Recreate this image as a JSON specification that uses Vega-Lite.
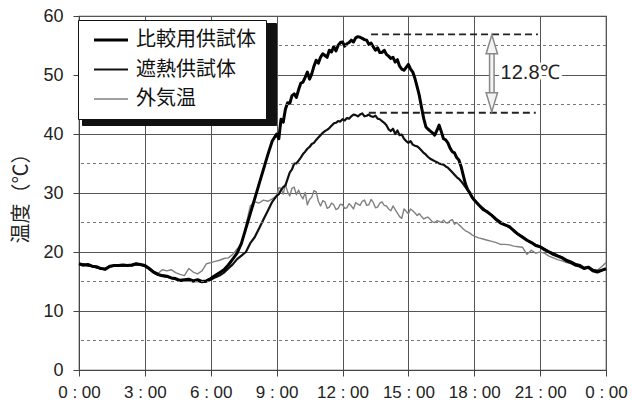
{
  "$schema": "https://vega.github.io/schema/vega-lite/v6.json",
  "width": 527,
  "height": 354,
  "autosize": {"type": "none"},
  "padding": {"left": 79, "top": 16, "right": 26, "bottom": 38},
  "background": "white",
  "config": {
    "view": {"stroke": "#444", "strokeWidth": 1.2},
    "font": "Liberation Sans",
    "axis": {
      "gridColor": "#555", "gridWidth": 1, "domainColor": "#444", "tickColor": "#444",
      "tickSize": 6, "labelColor": "#222", "labelFont": "Liberation Sans"
    },
    "axisY": {"titleFont": "Noto Sans CJK JP", "titleFontSize": 20, "titleFontWeight": "normal", "titleColor": "#222", "titlePadding": 11}
  },
  "layer": [
    {
      "data": {"values": [
        {"t":0.0,"a":18.0,"b":17.9,"c":17.8},{"t":0.2,"a":17.8,"b":17.9,"c":17.6},{"t":0.4,"a":17.9,"b":17.7,"c":17.8},
        {"t":0.6,"a":17.6,"b":17.6,"c":17.5},{"t":0.8,"a":17.5,"b":17.4,"c":17.3},{"t":1.0,"a":17.2,"b":17.2,"c":17.1},
        {"t":1.2,"a":17.1,"b":17.0,"c":17.2},{"t":1.4,"a":17.6,"b":17.5,"c":17.6},{"t":1.6,"a":17.7,"b":17.7,"c":17.6},
        {"t":1.8,"a":17.7,"b":17.7,"c":17.8},{"t":2.0,"a":17.8,"b":17.7,"c":17.7},{"t":2.2,"a":17.7,"b":17.8,"c":17.6},
        {"t":2.4,"a":17.8,"b":17.7,"c":17.8},{"t":2.6,"a":18.0,"b":17.9,"c":18.1},{"t":2.8,"a":17.9,"b":17.8,"c":17.8},
        {"t":3.0,"a":17.7,"b":17.6,"c":17.8},{"t":3.2,"a":17.2,"b":17.1,"c":17.3},{"t":3.4,"a":16.6,"b":16.5,"c":16.7},
        {"t":3.6,"a":16.2,"b":16.1,"c":16.4},{"t":3.8,"a":16.0,"b":15.9,"c":17.0},{"t":4.0,"a":15.9,"b":15.8,"c":16.8},
        {"t":4.2,"a":15.6,"b":15.6,"c":17.0},{"t":4.4,"a":15.5,"b":15.4,"c":16.5},{"t":4.6,"a":15.2,"b":15.1,"c":16.2},
        {"t":4.8,"a":15.3,"b":15.2,"c":16.0},{"t":5.0,"a":15.4,"b":15.2,"c":17.2},{"t":5.2,"a":15.1,"b":15.0,"c":16.6},
        {"t":5.4,"a":15.3,"b":15.1,"c":16.3},{"t":5.6,"a":15.0,"b":14.9,"c":16.8},{"t":5.8,"a":15.1,"b":15.0,"c":18.0},
        {"t":6.0,"a":15.5,"b":15.3,"c":18.2},{"t":6.2,"a":16.0,"b":15.7,"c":18.4},{"t":6.4,"a":16.5,"b":16.0,"c":18.6},
        {"t":6.6,"a":17.0,"b":16.5,"c":18.9},{"t":6.8,"a":17.8,"b":17.2,"c":19.0},{"t":7.0,"a":18.8,"b":17.9,"c":19.6},
        {"t":7.2,"a":19.8,"b":18.8,"c":20.5},{"t":7.4,"a":21.5,"b":19.4,"c":21.3},{"t":7.6,"a":24.0,"b":20.0,"c":24.5},
        {"t":7.8,"a":26.5,"b":21.5,"c":27.8},{"t":8.0,"a":29.0,"b":22.5,"c":28.5},{"t":8.2,"a":31.5,"b":24.0,"c":28.3},
        {"t":8.4,"a":34.0,"b":25.5,"c":28.8},{"t":8.6,"a":36.5,"b":27.0,"c":28.6},{"t":8.8,"a":38.8,"b":28.5,"c":29.0},
        {"t":9.0,"a":40.0,"b":29.5,"c":29.5},{"t":9.1,"a":39.2,"b":29.8,"c":30.9},{"t":9.2,"a":42.5,"b":30.5,"c":30.8},
        {"t":9.3,"a":42.0,"b":31.0,"c":29.8},{"t":9.4,"a":44.2,"b":31.3,"c":31.5},{"t":9.5,"a":45.3,"b":32.4,"c":30.2},
        {"t":9.6,"a":45.2,"b":33.5,"c":29.5},{"t":9.7,"a":46.5,"b":34.0,"c":30.8},{"t":9.8,"a":46.8,"b":35.0,"c":31.0},
        {"t":9.9,"a":46.2,"b":35.0,"c":29.7},{"t":10.0,"a":47.5,"b":35.5,"c":30.5},{"t":10.1,"a":48.6,"b":36.0,"c":29.6},
        {"t":10.2,"a":48.8,"b":36.6,"c":29.0},{"t":10.3,"a":49.6,"b":37.0,"c":30.1},{"t":10.4,"a":50.5,"b":37.5,"c":28.0},
        {"t":10.5,"a":49.3,"b":37.8,"c":28.9},{"t":10.6,"a":50.2,"b":38.3,"c":29.3},{"t":10.7,"a":51.5,"b":38.5,"c":30.4},
        {"t":10.8,"a":52.5,"b":39.0,"c":30.2},{"t":10.9,"a":52.0,"b":39.4,"c":28.6},{"t":11.0,"a":53.0,"b":39.8,"c":27.8},
        {"t":11.1,"a":53.6,"b":40.2,"c":28.7},{"t":11.2,"a":53.3,"b":40.5,"c":28.5},{"t":11.3,"a":53.0,"b":40.7,"c":27.4},
        {"t":11.4,"a":54.2,"b":41.0,"c":27.6},{"t":11.5,"a":53.9,"b":41.4,"c":28.3},{"t":11.6,"a":54.8,"b":41.8,"c":28.0},
        {"t":11.7,"a":54.1,"b":41.9,"c":27.2},{"t":11.8,"a":55.0,"b":42.2,"c":27.4},{"t":11.9,"a":55.5,"b":42.1,"c":28.1},
        {"t":12.0,"a":55.6,"b":42.5,"c":28.0},{"t":12.1,"a":54.9,"b":42.3,"c":27.4},{"t":12.2,"a":55.3,"b":42.7,"c":27.5},
        {"t":12.3,"a":55.5,"b":42.6,"c":28.2},{"t":12.4,"a":55.9,"b":43.0,"c":27.8},{"t":12.5,"a":55.6,"b":43.3,"c":27.3},
        {"t":12.6,"a":56.3,"b":43.2,"c":28.4},{"t":12.7,"a":56.5,"b":43.0,"c":28.1},{"t":12.8,"a":56.4,"b":43.3,"c":27.9},
        {"t":12.9,"a":56.2,"b":43.5,"c":28.6},{"t":13.0,"a":56.0,"b":43.0,"c":28.8},{"t":13.1,"a":55.9,"b":43.1,"c":27.9},
        {"t":13.2,"a":55.2,"b":43.3,"c":28.0},{"t":13.3,"a":55.4,"b":43.0,"c":28.9},{"t":13.4,"a":54.8,"b":42.9,"c":28.4},
        {"t":13.5,"a":54.2,"b":43.1,"c":27.5},{"t":13.6,"a":54.6,"b":42.6,"c":27.6},{"t":13.7,"a":53.8,"b":42.5,"c":28.3},
        {"t":13.8,"a":53.8,"b":42.2,"c":28.5},{"t":13.9,"a":54.2,"b":41.9,"c":27.9},{"t":14.0,"a":53.5,"b":41.5,"c":27.8},
        {"t":14.1,"a":53.2,"b":40.8,"c":27.3},{"t":14.2,"a":52.8,"b":40.5,"c":27.0},{"t":14.3,"a":53.0,"b":40.9,"c":27.8},
        {"t":14.4,"a":52.2,"b":40.0,"c":27.2},{"t":14.5,"a":52.6,"b":40.6,"c":26.6},{"t":14.6,"a":51.5,"b":39.8,"c":26.0},
        {"t":14.7,"a":51.0,"b":39.9,"c":25.7},{"t":14.8,"a":50.8,"b":39.2,"c":27.3},{"t":14.9,"a":51.3,"b":38.8,"c":26.9},
        {"t":15.0,"a":51.8,"b":38.5,"c":26.5},{"t":15.1,"a":51.0,"b":38.8,"c":27.3},{"t":15.2,"a":50.5,"b":38.2,"c":27.0},
        {"t":15.3,"a":49.4,"b":38.0,"c":26.6},{"t":15.4,"a":48.0,"b":37.9,"c":26.2},{"t":15.5,"a":46.5,"b":37.6,"c":26.5},
        {"t":15.6,"a":44.5,"b":37.2,"c":26.0},{"t":15.7,"a":42.6,"b":36.8,"c":25.6},{"t":15.8,"a":41.2,"b":36.5,"c":25.8},
        {"t":15.9,"a":40.8,"b":36.1,"c":25.9},{"t":16.0,"a":40.5,"b":35.8,"c":25.5},{"t":16.1,"a":40.2,"b":35.6,"c":25.1},
        {"t":16.2,"a":39.8,"b":35.4,"c":25.0},{"t":16.3,"a":40.6,"b":35.2,"c":25.3},{"t":16.4,"a":41.5,"b":35.0,"c":25.2},
        {"t":16.5,"a":40.4,"b":34.9,"c":25.0},{"t":16.6,"a":39.2,"b":34.8,"c":25.4},{"t":16.7,"a":39.0,"b":34.5,"c":25.0},
        {"t":16.8,"a":38.5,"b":34.3,"c":24.9},{"t":16.9,"a":37.6,"b":33.9,"c":25.3},{"t":17.0,"a":37.0,"b":33.5,"c":25.5},
        {"t":17.1,"a":36.8,"b":33.1,"c":24.7},{"t":17.2,"a":36.0,"b":32.7,"c":25.0},{"t":17.3,"a":35.6,"b":32.4,"c":24.6},
        {"t":17.4,"a":34.5,"b":32.0,"c":24.3},{"t":17.5,"a":33.0,"b":31.5,"c":23.9},{"t":17.6,"a":31.5,"b":31.0,"c":23.6},
        {"t":17.7,"a":30.6,"b":30.5,"c":23.4},{"t":17.8,"a":30.0,"b":30.0,"c":23.2},{"t":17.9,"a":29.3,"b":29.3,"c":22.9},
        {"t":18.0,"a":28.8,"b":28.8,"c":22.7},{"t":18.2,"a":28.0,"b":28.0,"c":22.4},{"t":18.4,"a":27.2,"b":27.4,"c":22.2},
        {"t":18.6,"a":26.8,"b":26.7,"c":22.0},{"t":18.8,"a":26.2,"b":26.2,"c":21.8},{"t":19.0,"a":25.5,"b":25.6,"c":21.6},
        {"t":19.2,"a":24.9,"b":25.1,"c":21.3},{"t":19.4,"a":24.6,"b":24.6,"c":21.3},{"t":19.6,"a":24.3,"b":24.2,"c":21.2},
        {"t":19.8,"a":23.6,"b":23.7,"c":21.0},{"t":20.0,"a":23.0,"b":23.0,"c":20.9},{"t":20.2,"a":22.5,"b":22.6,"c":20.8},
        {"t":20.4,"a":22.0,"b":22.0,"c":19.6},{"t":20.6,"a":21.6,"b":21.6,"c":20.3},{"t":20.8,"a":21.1,"b":21.2,"c":19.8},
        {"t":21.0,"a":20.9,"b":20.9,"c":20.0},{"t":21.2,"a":20.4,"b":20.5,"c":19.8},{"t":21.4,"a":20.0,"b":20.1,"c":19.3},
        {"t":21.6,"a":19.6,"b":19.8,"c":19.0},{"t":21.8,"a":19.3,"b":19.4,"c":18.7},{"t":22.0,"a":19.0,"b":19.1,"c":18.5},
        {"t":22.2,"a":18.5,"b":18.7,"c":18.2},{"t":22.4,"a":18.2,"b":18.4,"c":18.1},{"t":22.6,"a":17.8,"b":18.0,"c":17.7},
        {"t":22.8,"a":17.6,"b":17.8,"c":17.9},{"t":23.0,"a":17.2,"b":17.3,"c":17.4},{"t":23.2,"a":17.4,"b":17.5,"c":17.2},
        {"t":23.4,"a":16.8,"b":17.0,"c":17.0},{"t":23.6,"a":16.6,"b":16.8,"c":16.9},{"t":23.8,"a":16.9,"b":16.9,"c":17.5},
        {"t":24.0,"a":17.2,"b":17.1,"c":18.2}
      ]},
      "transform": [
        {"fold": ["c", "b", "a"], "as": ["k", "v"]},
        {"lookup": "k", "from": {"data": {"values": [{"k": "a", "s": "比較用供試体"}, {"k": "b", "s": "遮熱供試体"}, {"k": "c", "s": "外気温"}]}, "key": "k", "fields": ["s"]}}
      ],
      "mark": {"type": "line", "strokeJoin": "round"},
      "encoding": {
        "x": {
          "field": "t", "type": "quantitative",
          "scale": {"domain": [0, 24], "nice": false},
          "axis": {"values": [0, 3, 6, 9, 12, 15, 18, 21, 24], "title": null, "labelExpr": "(datum.value % 24) + ' : 00'",
                   "labelFontSize": 17, "labelPadding": 8, "grid": true, "labelFlush": false}
        },
        "y": {
          "field": "v", "type": "quantitative",
          "scale": {"domain": [0, 60], "nice": false},
          "axis": {"values": [0, 10, 20, 30, 40, 50, 60], "title": "温度（℃）", "titleFont": "Noto Sans CJK JP",
                   "titleFontSize": 20, "titleFontWeight": "normal", "titleColor": "#222", "titlePadding": 11,
                   "labelFontSize": 18, "labelPadding": 10, "grid": true}
        },
        "color": {
          "field": "s", "type": "nominal",
          "scale": {"domain": ["比較用供試体", "遮熱供試体", "外気温"], "range": ["#000000", "#111111", "#808080"]},
          "legend": {
            "title": null, "orient": "none", "legendX": -1, "legendY": 4, "zindex": 2,
            "fillColor": "white", "strokeColor": "#111", "padding": 10,
            "symbolType": "M-2,0L2,0", "symbolSize": 289, "symbolOffset": 13,
            "labelFont": "Noto Sans CJK JP", "labelFontSize": 20, "labelColor": "#111",
            "labelOffset": 15, "rowPadding": 9.5, "labelLimit": 300
          }
        },
        "strokeWidth": {
          "field": "s", "type": "nominal",
          "scale": {"domain": ["比較用供試体", "遮熱供試体", "外気温"], "range": [3, 1.4, 1.1]},
          "legend": {
            "title": null, "orient": "none", "legendX": -1, "legendY": 4, "zindex": 2,
            "fillColor": "white", "strokeColor": "#111", "padding": 10,
            "symbolType": "M-2,0L2,0", "symbolSize": 289, "symbolOffset": 13,
            "labelFont": "Noto Sans CJK JP", "labelFontSize": 20, "labelColor": "#111",
            "labelOffset": 15, "rowPadding": 9.5, "labelLimit": 300
          }
        }
      }
    },
    {
      "data": {"values": [{"s2": "比較用供試体"}, {"s2": "遮熱供試体"}, {"s2": "外気温"}]},
      "mark": {"type": "point", "opacity": 0},
      "encoding": {
        "shape": {
          "field": "s2", "type": "nominal",
          "scale": {"domain": ["比較用供試体", "遮熱供試体", "外気温"], "range": ["M-1,0L1,0", "M-1,0L1,0", "M-1,0L1,0"]},
          "legend": {
            "title": null, "orient": "none", "legendX": 3, "legendY": 7, "zindex": 1,
            "fillColor": "#111", "strokeColor": "#111", "padding": 10,
            "symbolSize": 361, "symbolOffset": 13, "symbolOpacity": 0,
            "labelExpr": "''", "labelFontSize": 20, "labelColor": "#111",
            "labelOffset": 140, "rowPadding": 9.5
          }
        }
      }
    },
    {
      "data": {"values": [{"g": 5}, {"g": 15}, {"g": 25}, {"g": 35}, {"g": 45}, {"g": 55}]},
      "mark": {"type": "rule", "color": "#777", "strokeDash": [3, 3], "strokeWidth": 1},
      "encoding": {"y": {"field": "g", "type": "quantitative"}}
    },
    {
      "data": {"values": [{"x1": 13.3, "x2": 20.9, "y": 56.9}, {"x1": 13.2, "x2": 20.8, "y": 43.6}]},
      "mark": {"type": "rule", "color": "#222", "strokeDash": [7, 4], "strokeWidth": 1.8},
      "encoding": {
        "x": {"field": "x1", "type": "quantitative"},
        "x2": {"field": "x2"},
        "y": {"field": "y", "type": "quantitative"}
      }
    },
    {
      "data": {"values": [{"x": 18.8, "y1": 46.9, "y2": 53.7}]},
      "layer": [
        {"mark": {"type": "rule", "color": "#888", "strokeWidth": 6}, "encoding": {"x": {"field": "x", "type": "quantitative"}, "y": {"field": "y1", "type": "quantitative"}, "y2": {"field": "y2"}}},
        {"mark": {"type": "rule", "color": "#f4f4f4", "strokeWidth": 3}, "encoding": {"x": {"field": "x", "type": "quantitative"}, "y": {"field": "y1", "type": "quantitative"}, "y2": {"field": "y2"}}}
      ]
    },
    {
      "data": {"values": [{"x": 18.8, "y": 55.2, "d": "up"}, {"x": 18.8, "y": 45.4, "d": "down"}]},
      "mark": {"type": "point", "filled": true, "fill": "#f4f4f4", "stroke": "#888", "strokeWidth": 1.5, "size": 361, "opacity": 1},
      "encoding": {
        "x": {"field": "x", "type": "quantitative"},
        "y": {"field": "y", "type": "quantitative"},
        "shape": {"field": "d", "type": "nominal", "legend": null,
                  "scale": {"domain": ["up", "down"], "range": ["M0,-1L0.6,1L-0.6,1Z", "M0,1L0.6,-1L-0.6,-1Z"]}}
      }
    },
    {
      "data": {"values": [{"x": 19.2, "y": 50.4, "label": "12.8℃"}]},
      "layer": [
        {"mark": {"type": "text", "align": "left", "baseline": "middle", "fontSize": 20, "font": "Liberation Sans", "color": "white", "stroke": "white", "strokeWidth": 6},
         "encoding": {"x": {"field": "x", "type": "quantitative"}, "y": {"field": "y", "type": "quantitative"}, "text": {"field": "label"}}},
        {"mark": {"type": "text", "align": "left", "baseline": "middle", "fontSize": 20, "font": "Liberation Sans", "color": "#222"},
         "encoding": {"x": {"field": "x", "type": "quantitative"}, "y": {"field": "y", "type": "quantitative"}, "text": {"field": "label"}}}
      ]
    }
  ],
  "resolve": {"scale": {"shape": "independent"}}
}
